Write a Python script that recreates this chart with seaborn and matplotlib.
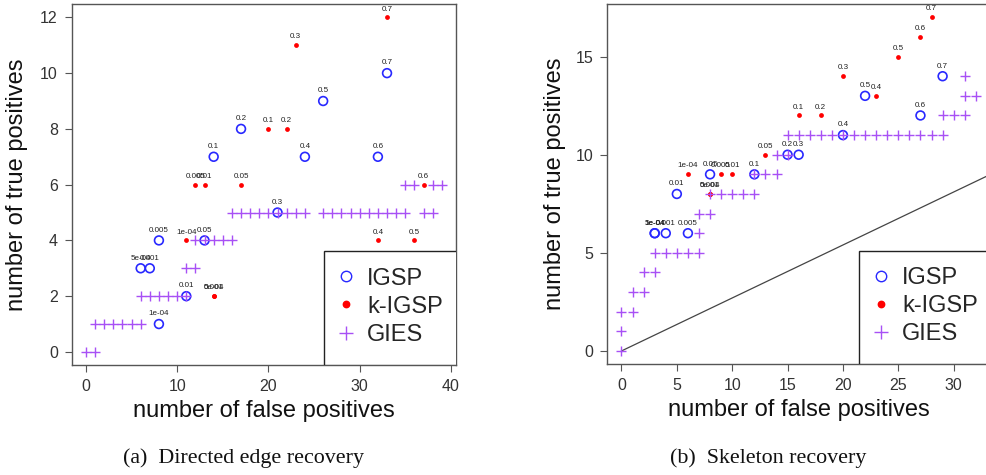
import numpy as np
import pandas as pd
import matplotlib
matplotlib.use("Agg")
import matplotlib.pyplot as plt
from matplotlib.lines import Line2D
from matplotlib.patches import Rectangle
import seaborn as sns

# ---------------- data ----------------
alpha_labels = ["1e-04", "5e-04", "0.001", "0.005", "0.01", "0.05", "0.1",
                "0.2", "0.3", "0.4", "0.5", "0.6", "0.7"]

# (a) directed edge recovery
igsp_a_fp = [8, 6, 7, 8, 11, 13, 14, 17, 21, 24, 26, 32, 33]
igsp_a_tp = [1, 3, 3, 4, 2, 4, 7, 8, 5, 7, 9, 7, 10]
kigsp_a_fp = [11, 14, 14, 12, 13, 17, 20, 22, 23, 32, 36, 37, 33]
kigsp_a_tp = [4, 2, 2, 6, 6, 6, 8, 8, 11, 4, 4, 6, 12]
gies_a_fp = [0, 1,
             1, 2, 3, 4, 5, 6,
             6, 7, 8, 9, 10, 11,
             11, 12,
             12, 13, 14, 15, 16,
             16, 17, 18, 19, 20, 21, 22, 23, 24,
             26, 27, 28, 29, 30, 31, 32, 33, 34, 35,
             37, 38,
             35, 36, 38, 39]
gies_a_tp = [0, 0,
             1, 1, 1, 1, 1, 1,
             2, 2, 2, 2, 2, 2,
             3, 3,
             4, 4, 4, 4, 4,
             5, 5, 5, 5, 5, 5, 5, 5, 5,
             5, 5, 5, 5, 5, 5, 5, 5, 5, 5,
             5, 5,
             6, 6, 6, 6]

# (b) skeleton recovery
igsp_b_fp = [3, 3, 4, 6, 5, 8, 12, 15, 16, 20, 22, 27, 29]
igsp_b_tp = [6, 6, 6, 6, 8, 9, 9, 10, 10, 11, 13, 12, 14]
kigsp_b_fp = [6, 8, 8, 9, 10, 13, 16, 18, 20, 23, 25, 27, 28]
kigsp_b_tp = [9, 8, 8, 9, 9, 10, 12, 12, 14, 13, 15, 16, 17]
gies_b_fp = [0, 0, 0, 1, 1, 2, 2, 3,
             3, 4, 5, 6, 7,
             7, 7, 8,
             8, 9, 10, 11, 12,
             12, 13, 14,
             14, 15,
             15, 16, 17, 18, 19, 20, 21, 22, 23, 24, 25, 26, 27, 28, 29,
             29, 30, 31,
             31, 32,
             31]
gies_b_tp = [0, 1, 2, 2, 3, 3, 4, 4,
             5, 5, 5, 5, 5,
             6, 7, 7,
             8, 8, 8, 8, 8,
             9, 9, 9,
             10, 10,
             11, 11, 11, 11, 11, 11, 11, 11, 11, 11, 11, 11, 11, 11, 11,
             12, 12, 12,
             13, 13,
             14]
diag_slope = 0.27

xticks_a = [0, 10, 20, 30, 40]
yticks_a = [0, 2, 4, 6, 8, 10, 12]
xticks_b = [0, 5, 10, 15, 20, 25, 30]
yticks_b = [0, 5, 10, 15]
series_names = ["IGSP", "k-IGSP", "GIES"]
captions = ["(a)  Directed edge recovery", "(b)  Skeleton recovery"]

# ---------------- style ----------------
sns.set_style("ticks")
plt.rcParams['font.family'] = ['Liberation Sans', 'DejaVu Sans']

BLUE = "#2828FF"
RED = "#FF0000"
PURPLE = "#A850F5"
FRAME = "#555555"

W, H = 987, 475
fig = plt.figure(figsize=(W / 100, H / 100), dpi=100)


def px_axes(l, r, t, b):
    return fig.add_axes([l / W, 1 - b / H, (r - l) / W, (b - t) / H])


ax1 = px_axes(71.7, 456, 4, 365.3)
ax2 = px_axes(607.3, 990, 4, 364.3)


def draw(ax, i_fp, i_tp, k_fp, k_tp, g_fp, g_tp, box_x0, box_h):
    df_i = pd.DataFrame({"fp": i_fp, "tp": i_tp})
    df_k = pd.DataFrame({"fp": k_fp, "tp": k_tp})
    df_g = pd.DataFrame({"fp": g_fp, "tp": g_tp})
    sns.scatterplot(data=df_i, x="fp", y="tp", ax=ax, marker="o", s=40,
                    facecolor="none", edgecolor=BLUE, linewidth=1.2,
                    legend=False, zorder=3)
    sns.scatterplot(data=df_k, x="fp", y="tp", ax=ax, marker="o", s=12,
                    color=RED, edgecolor=RED, linewidth=0, legend=False,
                    zorder=4)
    sns.scatterplot(data=df_g, x="fp", y="tp", ax=ax, marker="+", s=48,
                    color=PURPLE, linewidth=1.0, legend=False, zorder=5)
    for fx, fy, lab in zip(i_fp, i_tp, alpha_labels):
        ax.annotate(lab, (fx, fy), xytext=(0, 4.8), textcoords="offset points",
                    ha="center", va="bottom", fontsize=5.8, color="#222222",
                    zorder=6)
    for fx, fy, lab in zip(k_fp, k_tp, alpha_labels):
        ax.annotate(lab, (fx, fy), xytext=(0, 3.5), textcoords="offset points",
                    ha="center", va="bottom", fontsize=5.8, color="#222222",
                    zorder=6)
    for sp in ax.spines.values():
        sp.set_visible(True)
        sp.set_color(FRAME)
        sp.set_linewidth(1.0)
    ax.tick_params(direction="out", length=5, width=0.8, color=FRAME,
                   labelsize=11.5, labelcolor="#333333", pad=5)
    ax.set_xlabel("number of false positives", fontsize=17, color="#111111")
    ax.set_ylabel("number of true positives", fontsize=17, color="#111111")
    ax.xaxis.label.set_va("center")
    ax.yaxis.label.set_va("center")
    ax.xaxis.set_label_coords(0.5, -0.127)

    # legend box (R style, flush with bottom-right corner)
    ax.add_patch(Rectangle((box_x0, 0), 1.2, box_h, transform=ax.transAxes,
                           facecolor="white", edgecolor="#222222",
                           linewidth=1.0, zorder=9, clip_on=True))
    handles = [
        Line2D([], [], marker="o", ls="", mfc="none", mec=BLUE, ms=7.5, mew=1.0),
        Line2D([], [], marker="o", ls="", color=RED, ms=4.6),
        Line2D([], [], marker="+", ls="", color=PURPLE, ms=10, mew=1.0),
    ]
    leg = ax.legend(handles, series_names, loc="center left",
                    bbox_to_anchor=(box_x0, box_h / 2 + 0.004),
                    borderaxespad=0, fontsize=17, frameon=False,
                    borderpad=0.5, labelspacing=0.26,
                    handlelength=0.87, handletextpad=0.45)
    leg.set_zorder(10)


draw(ax1, igsp_a_fp, igsp_a_tp, kigsp_a_fp, kigsp_a_tp, gies_a_fp, gies_a_tp,
     0.657, 0.3164)
draw(ax2, igsp_b_fp, igsp_b_tp, kigsp_b_fp, kigsp_b_tp, gies_b_fp, gies_b_tp,
     0.6585, 0.3145)

ax1.set_xlim(-1.56, 40.56)
ax1.set_ylim(-0.48, 12.48)
ax1.set_xticks(xticks_a)
ax1.set_yticks(yticks_a)
ax1.yaxis.set_label_coords(-0.142, 0.5)

ax2.set_xlim(-1.28, 33.28)
ax2.set_ylim(-0.68, 17.68)
ax2.set_xticks(xticks_b)
ax2.set_yticks(yticks_b)
ax2.yaxis.set_label_coords(-0.137, 0.5)

x_end = ax2.get_xlim()[1]
ax2.plot([0, x_end], [0, diag_slope * x_end], color="#444444",
         linewidth=0.9, zorder=2)

# captions (serif), sized to the reference width of caption (a)
cap_a = fig.text(244 / W, 1 - 458 / H, captions[0],
                 family=["Liberation Serif", "DejaVu Serif"], fontsize=12,
                 ha="center", va="center", color="#111111")
renderer = fig.canvas.get_renderer()
wa = cap_a.get_window_extent(renderer).width
cap_fs = 12 * 240 / wa
cap_a.set_fontsize(cap_fs)
fig.text(768 / W, 1 - 458 / H, captions[1],
         family=["Liberation Serif", "DejaVu Serif"], fontsize=cap_fs,
         ha="center", va="center", color="#111111")

fig.savefig("out.png", dpi=100)
